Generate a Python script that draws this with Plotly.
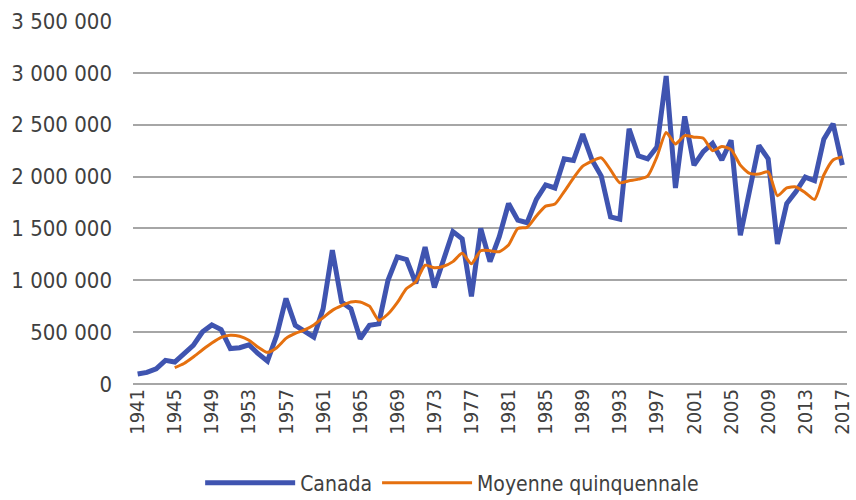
import plotly.graph_objects as go

years = list(range(1941, 2018))

canada = [
    97000, 112000, 147000, 228000, 212000, 292000, 372000, 503000, 570000, 525000,
    342000, 350000, 378000, 292000, 220000, 470000, 825000, 565000, 502000, 452000,
    725000, 1290000, 790000, 725000, 436000, 565000, 580000, 1000000, 1225000, 1200000,
    970000, 1320000, 930000, 1190000, 1470000, 1400000, 845000, 1500000, 1180000, 1420000,
    1740000, 1580000, 1555000, 1780000, 1920000, 1890000, 2170000, 2155000, 2410000, 2160000,
    2005000, 1610000, 1590000, 2460000, 2200000, 2170000, 2285000, 2970000, 1890000, 2580000,
    2110000, 2240000, 2320000, 2160000, 2350000, 1435000, 1870000, 2300000, 2170000, 1350000,
    1740000, 1855000, 1995000, 1960000, 2360000, 2510000, 2110000,
]

avg_years = list(range(1945, 2018))
moyenne = [
    157000, 197000, 260000, 330000, 395000, 450000, 470000, 460000, 422000, 355000,
    305000, 350000, 440000, 488000, 522000, 570000, 640000, 710000, 755000, 790000,
    790000, 750000, 615000, 675000, 785000, 920000, 985000, 1145000, 1120000, 1135000,
    1180000, 1260000, 1160000, 1285000, 1285000, 1275000, 1340000, 1500000, 1510000, 1620000,
    1715000, 1735000, 1855000, 1985000, 2100000, 2150000, 2180000, 2065000, 1940000, 1960000,
    1975000, 2005000, 2190000, 2425000, 2315000, 2395000, 2380000, 2370000, 2250000, 2290000,
    2260000, 2110000, 2030000, 2025000, 2045000, 1815000, 1890000, 1900000, 1845000, 1780000,
    2015000, 2160000, 2190000,
]

x_tick_years = list(range(1941, 2018, 4))
x_tick_labels = [str(y) for y in x_tick_years]
y_tick_vals = [0, 500000, 1000000, 1500000, 2000000, 2500000, 3000000, 3500000]
y_tick_labels = ["0", "500 000", "1 000 000", "1 500 000", "2 000 000",
                 "2 500 000", "3 000 000", "3 500 000"]

FONT = "Liberation Sans Narrow, DejaVu Sans Condensed, Roboto, sans-serif"
BLUE = "#3F54B0"
ORANGE = "#E5700F"
GRID = "#A6A6A6"

fig = go.Figure()
fig.add_trace(go.Scatter(
    x=years, y=canada, name="Canada", mode="lines",
    line=dict(color=BLUE, width=5),
))
fig.add_trace(go.Scatter(
    x=avg_years, y=moyenne, name="Moyenne quinquennale", mode="lines",
    line=dict(color=ORANGE, width=3, shape="spline", smoothing=0.6),
))

fig.update_layout(
    width=856, height=500,
    margin=dict(l=133, r=9, t=21, b=116, autoexpand=False),
    paper_bgcolor="white", plot_bgcolor="white",
    font=dict(family=FONT, size=20, color="#404040"),
    showlegend=True,
    legend=dict(
        orientation="h", x=0.447, xanchor="center", y=-0.273, yanchor="middle",
        font=dict(size=21, color="#404040"), itemwidth=90,
        tracegroupgap=0,
    ),
    xaxis=dict(
        range=[1940.5, 2017.5], tickmode="array",
        tickvals=x_tick_years, ticktext=x_tick_labels,
        tickangle=-90, showgrid=False, zeroline=False, showline=False,
        ticks="", tickfont=dict(size=20), automargin=False,
    ),
    yaxis=dict(
        range=[0, 3500000], tickmode="array",
        tickvals=y_tick_vals, ticktext=y_tick_labels,
        showgrid=True, gridcolor=GRID, gridwidth=1.5,
        zeroline=True, zerolinecolor=GRID, zerolinewidth=1.5,
        showline=False, ticks="", ticklabelstandoff=20,
        tickfont=dict(size=22), automargin=False,
    ),
)

fig.write_html(
    "out.html",
    config={"displayModeBar": False},
    post_script="document.body.style.margin='0px';document.body.style.overflow='hidden';",
)
